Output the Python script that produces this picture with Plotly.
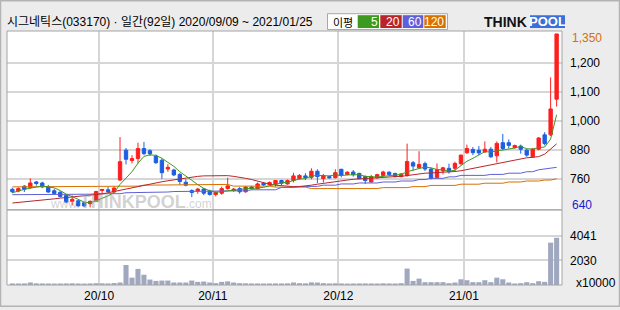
import plotly.graph_objects as go

# ---------------- data ----------------
OPEN = [714, 707, 727, 721, 744, 740, 724, 708, 702, 689, 665, 667, 659, 655, 665, 709, 712, 703, 752, 874,
        832, 840, 881, 872, 850, 833, 797, 793, 775, 743, 709, 707, 715, 707, 693, 698, 717, 709, 717, 704,
        723, 717, 739, 734, 734, 750, 736, 750, 758, 769, 763, 788, 758, 766, 762, 796, 775, 785, 779, 766,
        744, 761, 771, 784, 779, 766, 770, 823, 802, 819, 797, 762, 789, 800, 800, 819, 864, 877, 874, 867,
        878, 851, 905, 905, 885, 891, 874, 847, 878, 937, 937, 1083]
HIGH = [720, 722, 731, 759, 748, 745, 732, 716, 706, 694, 689, 670, 662, 668, 708, 716, 724, 726, 928, 883,
        854, 905, 908, 878, 856, 840, 817, 798, 780, 755, 714, 720, 719, 712, 705, 725, 762, 719, 723, 728,
        728, 742, 744, 746, 752, 753, 754, 782, 776, 780, 800, 796, 777, 770, 796, 798, 788, 793, 782, 771,
        773, 778, 790, 788, 782, 780, 901, 830, 870, 827, 802, 820, 806, 819, 827, 856, 897, 887, 891, 910,
        887, 910, 941, 918, 897, 897, 881, 883, 928, 948, 1172, 1350]
LOW = [698, 702, 703, 716, 729, 719, 700, 694, 680, 657, 648, 644, 641, 640, 662, 695, 700, 698, 748, 816,
       820, 820, 854, 851, 818, 757, 786, 768, 733, 726, 682, 696, 690, 688, 685, 692, 713, 704, 696, 700,
       712, 715, 728, 730, 725, 731, 733, 742, 754, 752, 755, 739, 742, 758, 758, 763, 771, 766, 755, 736,
       742, 757, 766, 769, 763, 763, 766, 790, 800, 789, 754, 759, 775, 778, 786, 813, 859, 854, 854, 864,
       843, 824, 874, 881, 881, 860, 847, 843, 874, 894, 932, 1053]
CLOSE = [704, 717, 714, 740, 738, 724, 703, 697, 685, 662, 673, 646, 646, 665, 705, 713, 705, 719, 827, 837,
         840, 881, 860, 859, 823, 782, 804, 773, 746, 731, 701, 715, 698, 693, 701, 717, 728, 715, 704, 723,
         717, 736, 732, 742, 750, 739, 750, 769, 771, 762, 788, 766, 769, 761, 782, 771, 784, 774, 758, 750,
         766, 774, 785, 775, 766, 777, 828, 809, 816, 797, 759, 794, 802, 786, 820, 854, 881, 864, 863, 878,
         847, 902, 881, 894, 893, 878, 854, 878, 924, 901, 1043, 1350]
VOLUME = [130, 125, 135, 210, 140, 130, 125, 120, 125, 130, 140, 125, 120, 130, 150, 140, 130, 160, 206, 1654,
          609, 1332, 850, 448, 340, 367, 367, 206, 206, 206, 367, 260, 287, 206, 153, 260, 300, 206, 153, 140,
          130, 130, 125, 130, 135, 130, 140, 206, 153, 140, 220, 206, 153, 130, 140, 130, 120, 125, 130, 130,
          130, 125, 140, 130, 125, 150, 1359, 340, 528, 233, 233, 233, 233, 153, 206, 474, 394, 233, 233, 394,
          233, 608, 474, 206, 126, 153, 233, 153, 314, 260, 3502, 3905]
MA5 = [700, 708, 714, 719, 723, 727, 724, 720, 709, 694, 684, 673, 662, 658, 667, 675, 687, 701, 734, 760,
       786, 821, 849, 855, 853, 841, 826, 808, 786, 767, 751, 733, 718, 708, 702, 705, 707, 711, 713, 717,
       717, 719, 722, 730, 735, 740, 743, 750, 756, 758, 768, 771, 771, 769, 773, 770, 773, 774, 774, 767,
       766, 764, 767, 770, 773, 775, 786, 791, 799, 805, 802, 795, 794, 788, 792, 811, 829, 841, 856, 868,
       867, 871, 874, 880, 883, 890, 880, 879, 885, 887, 920, 1019]
MA20 = [658, 660, 662, 665, 667, 670, 673, 675, 678, 680, 683, 686, 688, 690, 692, 695, 700, 705, 710, 716,
        722, 728, 733, 737, 741, 745, 749, 753, 757, 761, 764, 767, 769, 770, 770, 770, 770, 767, 764, 759,
        754, 747, 741, 735, 731, 728, 726, 725, 725, 727, 731, 735, 739, 743, 746, 749, 752, 755, 757, 759,
        761, 763, 764, 765, 766, 767, 770, 775, 779, 780, 781, 782, 783, 785, 787, 790, 795, 800, 804, 810,
        816, 820, 825, 829, 834, 840, 843, 845, 848, 858, 878, 900]
MA60 = [692, 692, 692, 692, 692, 692, 692, 694, 694, 694, 694, 694, 694, 694, 696, 696, 696, 696, 696, 700,
        700, 700, 700, 703, 703, 703, 703, 705, 705, 705, 705, 705, 708, 708, 708, 708, 708, 708, 708, 708,
        712, 712, 712, 712, 712, 722, 722, 722, 726, 726, 726, 726, 731, 731, 731, 736, 736, 736, 740, 740,
        740, 740, 744, 744, 744, 748, 748, 748, 754, 754, 759, 759, 759, 765, 765, 771, 771, 771, 771, 771,
        775, 775, 775, 780, 780, 780, 786, 786, 794, 797, 800, 804]
MA120 = [724, 724, 724, 724, 724, 724, 724, 724, 724, 724, 724, 727, 727, 727, 727, 727, 727, 727, 727, 727,
         727, 727, 731, 731, 731, 731, 734, 734, 734, 734, 734, 734, 734, 734, 734, 734, 734, 727, 727, 727,
         727, 727, 727, 727, 723, 723, 723, 723, 723, 723, 717, 717, 717, 717, 717, 717, 717, 717, 717, 717,
         717, 717, 721, 721, 721, 721, 721, 725, 725, 725, 730, 730, 730, 730, 730, 735, 735, 735, 735, 739,
         739, 739, 739, 744, 744, 744, 748, 748, 748, 752, 752, 757]
MONTH_START = [15, 34, 55, 76]
MONTH_LABELS = ["20/10", "20/11", "20/12", "21/01"]
PRICE_TICK_LABELS = ["760", "880", "1,000", "1,100", "1,200"]
PRICE_MAX_LABEL = "1,350"
PRICE_MIN_LABEL = "640"
VOL_TICKS = [2030, 4041]
VOL_UNIT = "x10000"
TITLE = "시그네틱스(033170) · 일간(92일) 2020/09/09 ~ 2021/01/25"
MA_NAMES = ["5", "20", "60", "120"]

# ---------------- styling / layout ----------------
W, H = 620, 310
ML, MR, MT, MB = 7, 58, 31, 22
PW, PH = W - ML - MR, H - MT - MB
SPLIT = (288 - 212) / PH
NUM_FONT = "Liberation Sans, Arial, sans-serif"
KR_FONT = "Liberation Sans, Noto Sans CJK KR, sans-serif"
NUM_SIZE = 12
C_UP, C_DN = "#ff1e1e", "#1d5fe3"
MA_COLORS = ["#3c9a1e", "#b8262a", "#5f5fd8", "#da7000"]
GRID = "#d6d6d6"


def fx(px):
    return (px - ML) / PW


def fy(py):
    return (MT + PH - py) / PH


idx = list(range(len(CLOSE)))
fig = go.Figure()

for ma, col in zip([MA120, MA60, MA20, MA5], MA_COLORS[::-1]):
    fig.add_trace(go.Scatter(x=idx, y=ma, mode="lines", line=dict(color=col, width=1),
                             showlegend=False, hoverinfo="skip", xaxis="x", yaxis="y"))

fig.add_trace(go.Candlestick(
    x=idx, open=OPEN, high=HIGH, low=LOW, close=CLOSE,
    increasing=dict(line=dict(color=C_UP, width=1), fillcolor=C_UP),
    decreasing=dict(line=dict(color=C_DN, width=1), fillcolor=C_DN),
    whiskerwidth=0, showlegend=False, xaxis="x", yaxis="y"))

fig.add_trace(go.Bar(x=idx, y=VOLUME, marker=dict(color="#a0a8c0", line=dict(width=0)),
                     width=0.85, showlegend=False, xaxis="x2", yaxis="y2"))

grid_x = [m - 0.5 for m in MONTH_START]
PRICE_RANGE = [629.8, 1362.1]
PRICE_TICKS = [758, 876, 995, 1112, 1230]

tickfont = dict(family=NUM_FONT, size=NUM_SIZE, color="#000")
fig.update_layout(
    width=W, height=H, margin=dict(l=ML, r=MR, t=MT, b=MB),
    paper_bgcolor="#ececec", plot_bgcolor="#ffffff",
    bargap=0.1, boxgap=0.2,
    xaxis=dict(domain=[0, 1], anchor="y", range=[-0.9, 91.9], tickvals=grid_x, showticklabels=False,
               showgrid=True, gridcolor=GRID, gridwidth=1.5, zeroline=False, rangeslider=dict(visible=False),
               fixedrange=True),
    xaxis2=dict(domain=[0, 1], anchor="y2", matches="x", range=[-0.9, 91.9], tickvals=grid_x,
                ticktext=MONTH_LABELS, showgrid=True, gridcolor=GRID, gridwidth=1.5, zeroline=False,
                ticks="", ticklabelstandoff=2, tickfont=tickfont),
    yaxis=dict(domain=[SPLIT, 1], anchor="x", range=PRICE_RANGE, side="right", tickvals=PRICE_TICKS,
               ticktext=PRICE_TICK_LABELS, showgrid=True, gridcolor=GRID, gridwidth=1.5, zeroline=False,
               ticks="", ticklabelstandoff=7, tickfont=tickfont),
    yaxis2=dict(domain=[0, SPLIT], anchor="x2", range=[0, 6210], side="right", tickvals=VOL_TICKS,
                ticktext=[str(v) for v in VOL_TICKS], showgrid=True, gridcolor=GRID, gridwidth=1.5,
                zeroline=False, ticks="", ticklabelstandoff=7, tickfont=tickfont),
)

shapes = [
    dict(type="rect", xref="paper", yref="paper", x0=fx(0.5), x1=fx(619.5), y0=fy(309.5), y1=fy(0.5),
         line=dict(color="#b4b4b4", width=1.5), layer="above"),
    dict(type="rect", xref="paper", yref="paper", x0=0, x1=1, y0=SPLIT, y1=1,
         line=dict(color="#a4a4a4", width=1), layer="above"),
    dict(type="rect", xref="paper", yref="paper", x0=0, x1=1, y0=0, y1=SPLIT,
         line=dict(color="#a4a4a4", width=1), layer="above"),
    dict(type="rect", xref="paper", yref="paper", x0=fx(327.5), x1=fx(447.5), y0=fy(29.5), y1=fy(13.5),
         fillcolor="#ffffff", line=dict(color="#a8a8a8", width=1)),
    dict(type="rect", xref="paper", yref="paper", x0=fx(530), x1=fx(565), y0=fy(28), y1=fy(15),
         fillcolor="#3b6fd9", line=dict(width=0)),
]
box_x = [(357.7, 379), (380.3, 401.7), (402.7, 423.3), (424.3, 445.7)]
annotations = []
for (a, b), col, name in zip(box_x, MA_COLORS, MA_NAMES):
    shapes.append(dict(type="rect", xref="paper", yref="paper", x0=fx(a), x1=fx(b), y0=fy(28), y1=fy(15),
                       fillcolor=col, line=dict(width=0)))
    annotations.append(dict(xref="paper", yref="paper", x=fx(b + 0.5), y=fy(21.5), text=name,
                            xanchor="right", yanchor="middle", showarrow=False,
                            font=dict(family=NUM_FONT, size=12, color="#ffffff")))

annotations += [
    dict(xref="paper", yref="paper", x=fx(5), y=fy(22), text=TITLE, xanchor="left", yanchor="middle",
         showarrow=False, font=dict(family=KR_FONT, size=12, color="#000")),
    dict(xref="paper", yref="paper", x=fx(331), y=fy(21.5), text="이평", xanchor="left", yanchor="middle",
         showarrow=False, font=dict(family="Noto Sans CJK KR", size=11, color="#000")),
    dict(xref="paper", yref="paper", x=fx(529), y=fy(21.5), text="<b>THINK</b>", xanchor="right",
         yanchor="middle", showarrow=False, font=dict(family="Liberation Sans", size=14, color="#111")),
    dict(xref="paper", yref="paper", x=fx(547.5), y=fy(21.5), text="<b>POOL</b>", xanchor="center",
         yanchor="middle", showarrow=False, font=dict(family="Liberation Sans", size=13, color="#ffffff")),
    dict(xref="paper", yref="paper", x=fx(48), y=fy(204),
         text="<span style='font-size:12px'>www.</span><b>THINKPOOL</b><span style='font-size:12px'>.com</span>",
         xanchor="left", yanchor="middle", showarrow=False,
         font=dict(family=NUM_FONT, size=18, color="rgba(165,165,165,0.5)")),
    dict(xref="paper", yref="y", x=fx(570), y=max(HIGH), yshift=-4, text=PRICE_MAX_LABEL, xanchor="left",
         yanchor="middle", showarrow=False, font=dict(family=NUM_FONT, size=NUM_SIZE, color="#d2700a")),
    dict(xref="paper", yref="y", x=fx(570), y=min(LOW), yshift=2, text=PRICE_MIN_LABEL, xanchor="left",
         yanchor="middle", showarrow=False, font=dict(family=NUM_FONT, size=NUM_SIZE, color="#1a1ad0")),
    dict(xref="paper", yref="paper", x=fx(574), y=fy(286), text=VOL_UNIT, xanchor="left", yanchor="middle",
         showarrow=False, font=dict(family=NUM_FONT, size=NUM_SIZE, color="#000")),
]
fig.update_layout(shapes=shapes, annotations=annotations)
fig.write_html("out.html")
